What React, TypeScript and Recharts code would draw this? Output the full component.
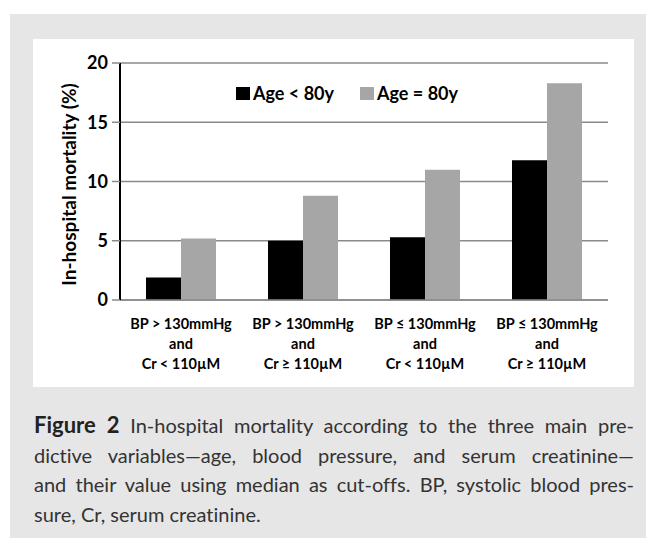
import React from "react";
import { BarChart, Bar, XAxis, YAxis, CartesianGrid, Legend } from "recharts";

const categories = [
  "BP > 130mmHg\nand\nCr < 110µM",
  "BP > 130mmHg\nand\nCr ≥ 110µM",
  "BP ≤ 130mmHg\nand\nCr < 110µM",
  "BP ≤ 130mmHg\nand\nCr ≥ 110µM",
];
const ageUnder80 = [1.9, 5.0, 5.3, 11.8];
const ageOver80 = [5.2, 8.8, 11.0, 18.3];
const yTicks = [0, 5, 10, 15, 20];
const seriesNames = ["Age < 80y", "Age = 80y"];

const FONT = "Lato, 'Open Sans', sans-serif";
const GRID = "#8a8a8a";

const data = categories.map((name, i) => ({
  name,
  young: ageUnder80[i],
  old: ageOver80[i],
}));

function CategoryTick(props: any) {
  const { x, y, payload } = props;
  const lines = String(payload.value).split("\n");
  return (
    <text
      x={x}
      y={y}
      textAnchor="middle"
      fill="#000"
      fontFamily={FONT}
      fontWeight={700}
      fontSize={14.5}
    >
      {lines.map((line, i) => (
        <tspan key={i} x={x} y={y + 29 + i * 20}>
          {line}
        </tspan>
      ))}
    </text>
  );
}

function renderLegend(props: any) {
  const { payload } = props;
  return (
    <div style={{ display: "flex", alignItems: "center", fontFamily: FONT }}>
      {payload.map((entry: any, i: number) => (
        <div
          key={i}
          style={{
            display: "flex",
            alignItems: "center",
            marginRight: 26,
            fontSize: 18,
            fontWeight: 700,
            color: "#000",
            whiteSpace: "nowrap",
          }}
        >
          <span
            style={{
              display: "inline-block",
              width: 14,
              height: 13,
              background: entry.color,
              marginRight: 3,
            }}
          />
          {entry.value}
        </div>
      ))}
    </div>
  );
}

const captionLines = [
  "dictive variables—age, blood pressure, and serum creatinine—",
  "and their value using median as cut-offs. BP, systolic blood pres-",
];

export default function App() {
  return (
    <div
      style={{
        position: "fixed",
        left: 0,
        top: 0,
        width: 646,
        height: 538,
        background: "#fff",
        overflow: "hidden",
      }}
    >
      <div
        style={{
          position: "absolute",
          left: 10,
          top: 14,
          width: 636,
          height: 524,
          background: "#e6e6e6",
        }}
      />
      <div
        style={{
          position: "absolute",
          left: 33,
          top: 39,
          width: 601,
          height: 348,
          background: "#fff",
        }}
      >
        <BarChart
          width={601}
          height={348}
          data={data}
          margin={{ top: 24, right: 26, bottom: 0, left: 0 }}
          barGap={0}
          barSize={35}
        >
          <CartesianGrid vertical={false} stroke={GRID} strokeWidth={1.5} />
          <XAxis
            dataKey="name"
            height={87}
            interval={0}
            tickLine={false}
            tickSize={0}
            tickMargin={0}
            axisLine={{ stroke: GRID, strokeWidth: 1.5 }}
            tick={<CategoryTick />}
          />
          <YAxis
            width={87}
            domain={[0, 20]}
            ticks={yTicks}
            interval={0}
            tickSize={8}
            tickMargin={4}
            tickLine={{ stroke: GRID, strokeWidth: 1.5 }}
            axisLine={{ stroke: "#000", strokeWidth: 2 }}
            tick={{ fill: "#000", fontSize: 18, fontWeight: 700, fontFamily: FONT }}
            label={{
              value: "In-hospital mortality (%)",
              angle: -90,
              position: "center",
              dx: -7,
              dy: 3,
              fill: "#000",
              fontSize: 19,
              fontWeight: 700,
              fontFamily: FONT,
            }}
          />
          <Legend
            layout="horizontal"
            verticalAlign="middle"
            align="center"
            content={renderLegend}
            wrapperStyle={{ position: "absolute", top: 43, left: 203, width: "auto" }}
          />
          <Bar dataKey="young" name={seriesNames[0]} fill="#000" isAnimationActive={false} />
          <Bar dataKey="old" name={seriesNames[1]} fill="#a6a6a6" isAnimationActive={false} />
        </BarChart>
      </div>
      <div
        style={{
          position: "absolute",
          left: 34,
          top: 410,
          width: 600,
          fontFamily: FONT,
          fontSize: 20,
          lineHeight: "29.5px",
          color: "#333",
          fontVariantLigatures: "none",
        }}
      >
        <div style={{ textAlign: "justify", textAlignLast: "justify", whiteSpace: "nowrap" }}>
          <span style={{ fontWeight: 700, fontSize: 22, color: "#222" }}>Figure 2</span>
          {"  In-hospital mortality according to the three main pre-"}
        </div>
        {captionLines.map((line, i) => (
          <div
            key={i}
            style={{ textAlign: "justify", textAlignLast: "justify", whiteSpace: "nowrap" }}
          >
            {line}
          </div>
        ))}
        <div style={{ whiteSpace: "nowrap" }}>sure, Cr, serum creatinine.</div>
      </div>
    </div>
  );
}
